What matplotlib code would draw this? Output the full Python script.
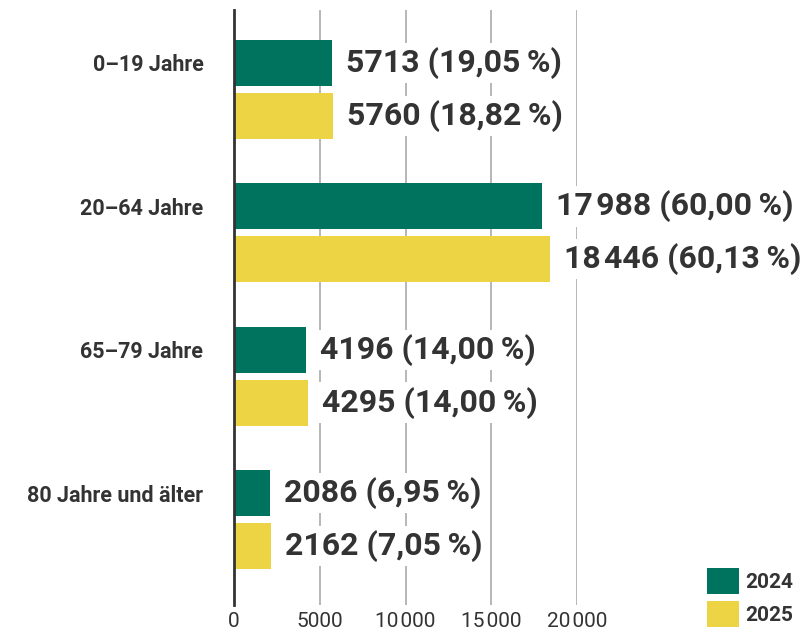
import matplotlib
matplotlib.use("Agg")
import matplotlib.pyplot as plt
from matplotlib.patches import Patch
import numpy as np

plt.rcParams['font.family'] = ['Roboto', 'DejaVu Sans']

categories = ["0–19 Jahre", "20–64 Jahre", "65–79 Jahre", "80 Jahre und älter"]
values_2024 = [5713, 17988, 4196, 2086]
values_2025 = [5760, 18446, 4295, 2162]
labels_2024 = ["5713 (19,05\u2009%)", "17\u200a988 (60,00\u2009%)", "4196 (14,00\u2009%)", "2086 (6,95\u2009%)"]
labels_2025 = ["5760 (18,82\u2009%)", "18\u200a446 (60,13\u2009%)", "4295 (14,00\u2009%)", "2162 (7,05\u2009%)"]
series_names = ["2024", "2025"]
xticks = [0, 5000, 10000, 15000, 20000]
xtick_labels = ["0", "5000", "10\u200a000", "15\u200a000", "20\u200a000"]

GREEN = "#00735F"
YELLOW = "#ECD444"
TEXT = "#333333"

fig = plt.figure(figsize=(8.05, 6.32), dpi=100)
ax = fig.add_axes([234/805, 1-605/632, (577-234)/805, (605-10)/632])

y = np.arange(len(categories))
off = 0.184
h = 0.32
ax.barh(y - off, values_2024, height=h, color=GREEN, zorder=2)
ax.barh(y + off, values_2025, height=h, color=YELLOW, zorder=2)

for ys, vals, labs in ((y - off, values_2024, labels_2024), (y + off, values_2025, labels_2025)):
    for yi, v, lab in zip(ys, vals, labs):
        ax.annotate(lab, (v, yi), xytext=(10, 0), textcoords="offset points",
                    va="center", ha="left", fontsize=23, fontweight="bold", color=TEXT,
                    bbox=dict(facecolor="white", edgecolor="none", pad=3), zorder=3,
                    annotation_clip=False)

ax.set_xlim(0, 20000)
ax.set_ylim(3.595, -0.553)
ax.set_yticks(y - off)
ax.set_yticklabels(categories, fontsize=15.5, fontweight="bold", color=TEXT)
ax.tick_params(axis="y", length=0, pad=22)
ax.set_xticks(xticks)
ax.set_xticklabels(xtick_labels, fontsize=15, color=TEXT)
ax.tick_params(axis="x", length=0, pad=5)
ax.grid(axis="x", color="#AAAAAA", linewidth=1.2, zorder=0)
ax.set_axisbelow(True)
for s in ["top", "right", "bottom"]:
    ax.spines[s].set_visible(False)
ax.spines["left"].set_color(TEXT)
ax.spines["left"].set_linewidth(2)
ax.spines["left"].set_zorder(4)

handles = [Patch(facecolor=GREEN, edgecolor="none"), Patch(facecolor=YELLOW, edgecolor="none")]
leg = fig.legend(handles, series_names, loc="lower left", bbox_to_anchor=(705/805, 0.004),
                 frameon=False, fontsize=15, handlelength=1.55, handleheight=1.6,
                 labelspacing=0.3, handletextpad=0.3, borderaxespad=0.0, borderpad=0.1)
for t in leg.get_texts():
    t.set_fontweight("bold")
    t.set_color(TEXT)

fig.savefig("out.png", dpi=100)
